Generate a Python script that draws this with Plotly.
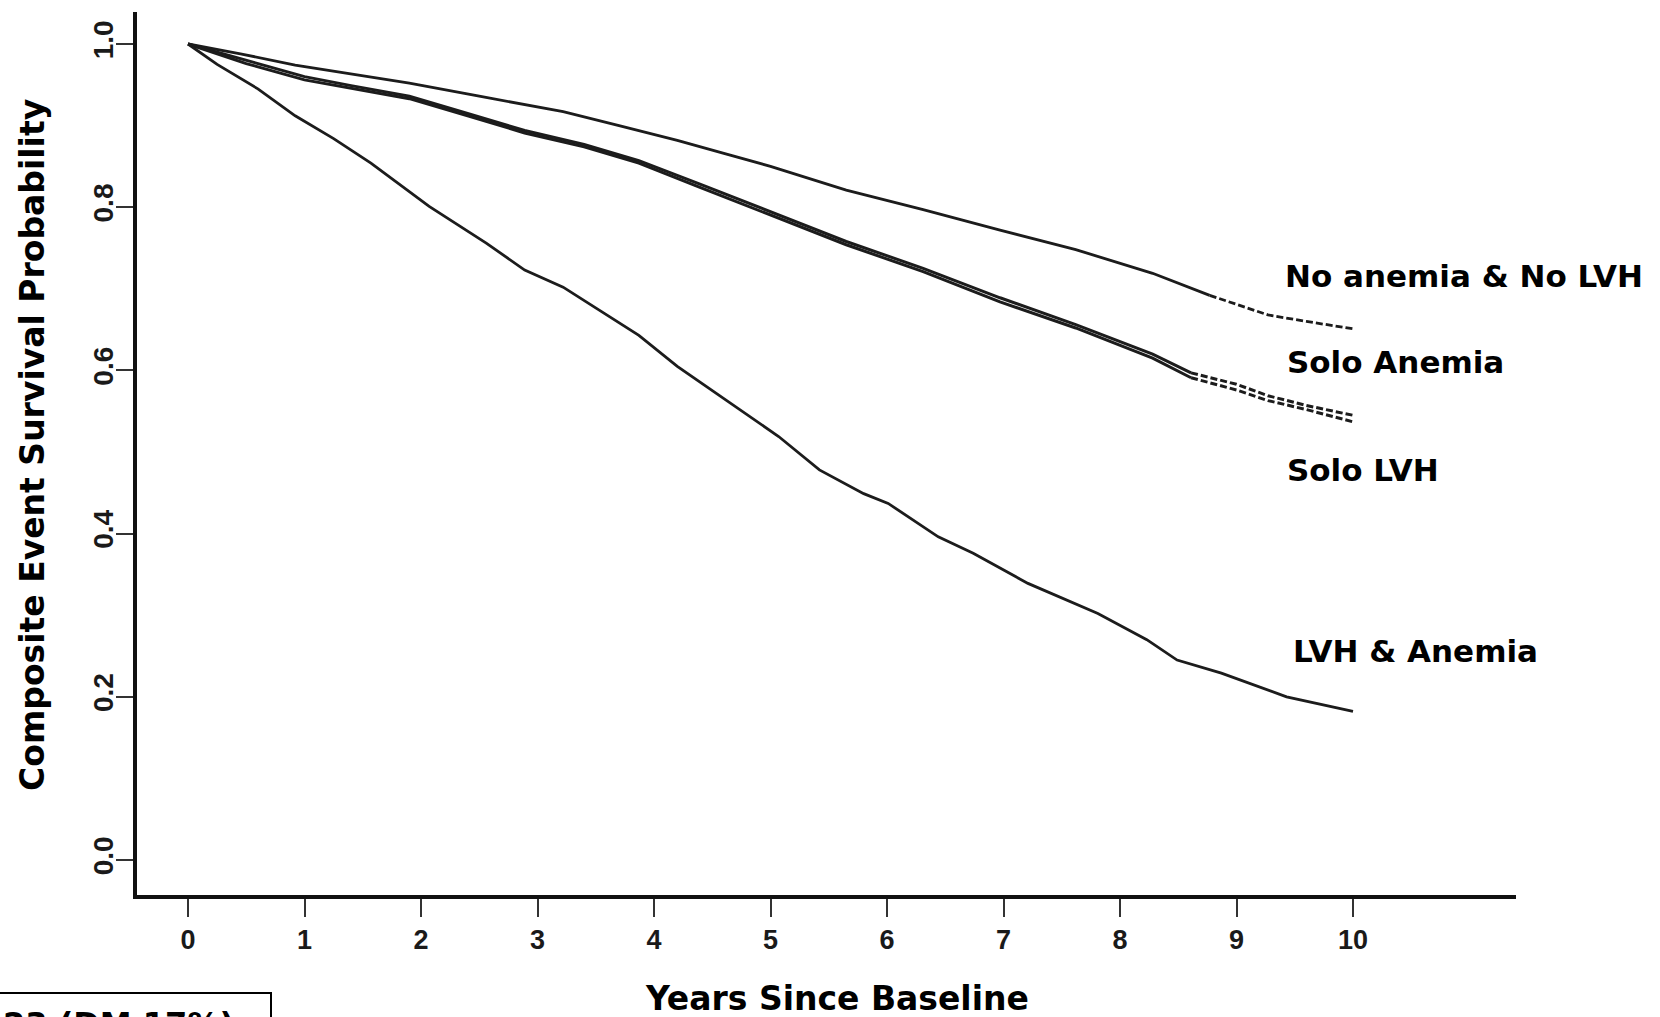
import plotly.graph_objects as go

# Kaplan-Meier style survival estimates (composite event) by group
years_none = [0, 0.45, 0.92, 1.4, 1.9, 2.5, 3.22, 3.7, 4.2, 4.6, 5.0, 5.65, 6.31,
              6.97, 7.62, 8.28, 8.77, 9.27, 9.6, 10.0]
surv_none = [1.0, 0.988, 0.974, 0.963, 0.952, 0.936, 0.917, 0.900, 0.882, 0.866,
             0.850, 0.821, 0.797, 0.772, 0.748, 0.719, 0.692, 0.668, 0.660, 0.651]

years_solo = [0, 0.5, 1.0, 1.4, 1.9, 2.4, 2.89, 3.4, 3.87, 4.4, 5.0, 5.65, 6.31,
              6.97, 7.62, 8.28, 8.61, 9.0, 9.27, 9.6, 10.0]
surv_anemia = [1.0, 0.980, 0.960, 0.949, 0.936, 0.915, 0.894, 0.877, 0.857, 0.828,
               0.794, 0.758, 0.725, 0.689, 0.656, 0.620, 0.597, 0.583, 0.569, 0.557, 0.545]
surv_lvh = [1.0, 0.976, 0.956, 0.946, 0.933, 0.912, 0.891, 0.874, 0.854, 0.824,
            0.790, 0.754, 0.721, 0.684, 0.652, 0.615, 0.591, 0.576, 0.563, 0.552, 0.537]

years_both = [0, 0.25, 0.6, 0.92, 1.25, 1.57, 2.07, 2.56, 2.89, 3.22, 3.55, 3.87,
              4.2, 4.53, 5.07, 5.42, 5.8, 6.01, 6.44, 6.74, 7.21, 7.81, 8.23, 8.49,
              8.87, 9.43, 10.0]
surv_both = [1.0, 0.975, 0.945, 0.912, 0.884, 0.854, 0.801, 0.756, 0.723, 0.702,
             0.672, 0.643, 0.605, 0.572, 0.519, 0.478, 0.449, 0.437, 0.396, 0.376,
             0.339, 0.302, 0.270, 0.245, 0.229, 0.200, 0.182]

group_labels = ["No anemia & No LVH", "Solo Anemia", "Solo LVH", "LVH & Anemia"]
x_ticks = list(range(0, 11))
y_ticks = [0.0, 0.2, 0.4, 0.6, 0.8, 1.0]

W, H = 1660, 1017
L, R, T, B = 137, 1516, 12, 895   # plot area in pixels


def px(x):
    return (x - L) / (R - L)


def py(y):
    return (B - y) / (B - T)


LINE = "#1c1c1c"
fig = go.Figure()


def add_curve(xs, ys, tail_from=None, width=3.0):
    """Solid curve, optionally with a broken (dashed) tail from a given year."""
    if tail_from is None:
        fig.add_trace(go.Scatter(x=xs, y=ys, mode="lines",
                                 line=dict(color=LINE, width=width), showlegend=False))
        return
    k = next(i for i, v in enumerate(xs) if v >= tail_from)
    fig.add_trace(go.Scatter(x=xs[:k + 1], y=ys[:k + 1], mode="lines",
                             line=dict(color=LINE, width=width), showlegend=False))
    fig.add_trace(go.Scatter(x=xs[k:], y=ys[k:], mode="lines",
                             line=dict(color=LINE, width=width, dash="7px,3px"),
                             showlegend=False))


add_curve(years_none, surv_none, tail_from=8.77, width=2.8)
add_curve(years_solo, surv_anemia, tail_from=8.61, width=3.0)
add_curve(years_solo, surv_lvh, tail_from=8.61, width=3.0)
add_curve(years_both, surv_both, width=2.8)

x_per = 116.5
x0_px = 188
y1_px, y0_px = 44, 860
fig.update_xaxes(
    range=[(L - x0_px) / x_per, (R - x0_px) / x_per],
    tickvals=x_ticks, ticktext=[str(v) for v in x_ticks],
    showline=True, linecolor="#111", linewidth=4,
    ticks="outside", ticklen=18, tickwidth=2, tickcolor="#333",
    tickfont=dict(family="Liberation Sans", size=27, color="#1a1a1a", weight=700),
    ticklabelstandoff=0,
    showgrid=False, zeroline=False, fixedrange=True,
)
per_unit = (y0_px - y1_px)
fig.update_yaxes(
    range=[(y0_px - B) / per_unit, (y0_px - T) / per_unit],
    tickvals=y_ticks, ticktext=[f"{v:.1f}" for v in y_ticks],
    tickangle=-90,
    showline=True, linecolor="#111", linewidth=4,
    ticks="outside", ticklen=17, tickwidth=2, tickcolor="#333",
    tickfont=dict(family="Liberation Sans", size=28, color="#1a1a1a", weight=700),
    ticklabelstandoff=-8,
    showgrid=False, zeroline=False, fixedrange=True,
)

title_font = dict(family="DejaVu Sans", size=33, color="#000", weight=700)
label_font = dict(family="DejaVu Sans", size=31, color="#000", weight=700)

annotations = [
    dict(text="Years Since Baseline", x=px(837), y=py(998), xanchor="center",
         yanchor="middle", font=title_font),
    dict(text="Composite Event Survival Probability", x=px(32), y=py(445),
         xanchor="center", yanchor="middle", textangle=-90, font=title_font),
    dict(text=group_labels[0], x=px(1283), y=py(276), xanchor="left", yanchor="middle",
         font=label_font),
    dict(text=group_labels[1], x=px(1285), y=py(362), xanchor="left", yanchor="middle",
         font=label_font),
    dict(text=group_labels[2], x=px(1285), y=py(470), xanchor="left", yanchor="middle",
         font=label_font),
    dict(text=group_labels[3], x=px(1291), y=py(651), xanchor="left", yanchor="middle",
         font=label_font),
    dict(text="23 (DM 17%)", x=px(1), y=py(1003), xanchor="left", yanchor="top",
         font=dict(family="DejaVu Sans", size=32, color="#000", weight=700)),
]
for a in annotations:
    a.update(xref="paper", yref="paper", showarrow=False)

fig.update_layout(
    width=W, height=H,
    margin=dict(l=L, r=W - R, t=T, b=H - B, pad=0),
    paper_bgcolor="white", plot_bgcolor="white",
    annotations=annotations,
    shapes=[dict(type="rect", xref="paper", yref="paper",
                 x0=px(-4), x1=px(271), y0=py(1040), y1=py(993),
                 line=dict(color="#000", width=2), fillcolor="rgba(0,0,0,0)")],
)

fig.write_html("out.html", config={"displayModeBar": False})
